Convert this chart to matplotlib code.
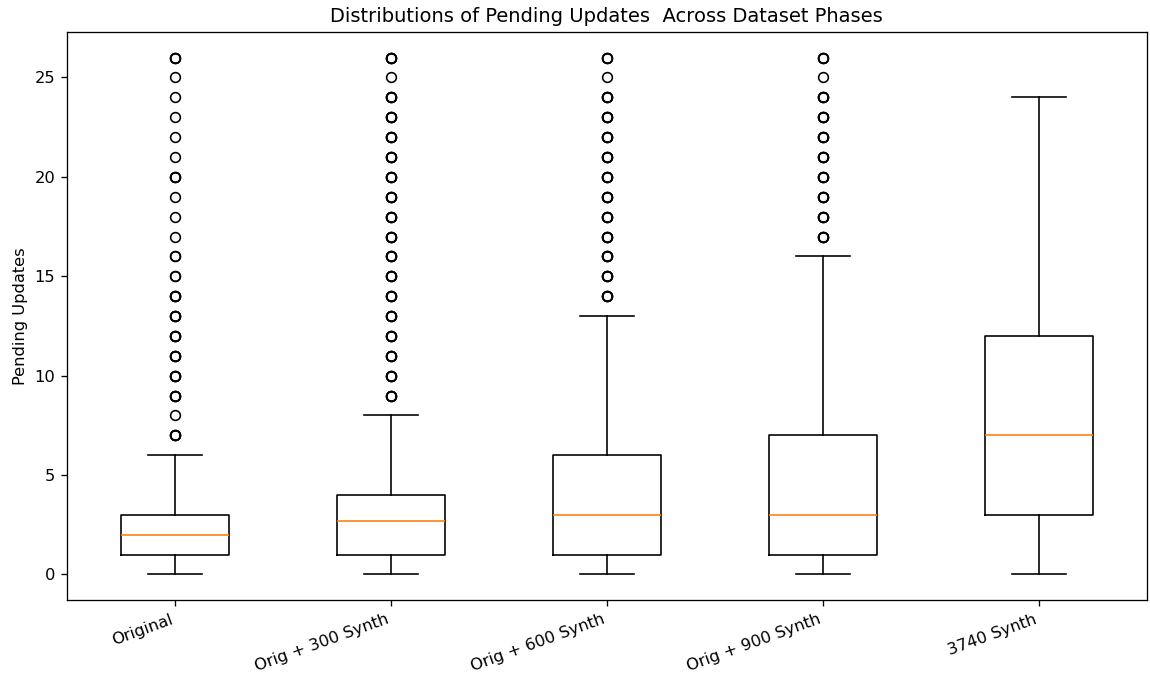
import matplotlib
matplotlib.use("Agg")
import matplotlib.pyplot as plt
import numpy as np

labels = ["Original", "Orig + 300 Synth", "Orig + 600 Synth", "Orig + 900 Synth", "3740 Synth"]
whislo = [0, 0, 0, 0, 0]
q1 = [1, 1, 1, 1, 3]
med = [2, 2.7, 3, 3, 7]
q3 = [3, 4, 6, 7, 12]
whishi = [6, 8, 13, 16, 24]

# outlier values and how many times each was drawn (overlap makes them look bold)
flier_vals = [
    [7, 8, 9, 10, 11, 12, 13, 14, 15, 16, 17, 18, 19, 20, 21, 22, 23, 24, 25, 26],
    [9, 10, 11, 12, 13, 14, 15, 16, 17, 18, 19, 20, 21, 22, 23, 24, 25, 26],
    [14, 15, 16, 17, 18, 19, 20, 21, 22, 23, 24, 25, 26],
    [17, 18, 19, 20, 21, 22, 23, 24, 25, 26],
    [],
]
flier_counts = [
    [4, 1, 4, 4, 4, 4, 4, 4, 2, 2, 1, 1, 1, 3, 1, 1, 1, 1, 1, 3],
    [4, 4, 4, 4, 4, 4, 4, 4, 4, 4, 4, 4, 4, 4, 4, 4, 1, 4],
    [4, 4, 4, 4, 4, 4, 4, 4, 4, 4, 4, 1, 3],
    [4, 4, 4, 4, 4, 4, 4, 4, 1, 3],
    [],
]

stats = []
for i in range(len(labels)):
    stats.append({
        "label": labels[i],
        "whislo": whislo[i],
        "q1": q1[i],
        "med": med[i],
        "q3": q3[i],
        "whishi": whishi[i],
        "fliers": np.repeat(flier_vals[i], flier_counts[i]) if flier_vals[i] else [],
    })

dpi = 117
fig, ax = plt.subplots(figsize=(1150 / dpi, 676 / dpi), dpi=dpi)
ax.bxp(stats)

ax.set_title("Distributions of Pending Updates  Across Dataset Phases")
ax.set_ylabel("Pending Updates")
plt.setp(ax.get_xticklabels(), rotation=20, ha="right")

fig.subplots_adjust(left=0.058, right=0.997, top=0.953, bottom=0.112)
fig.savefig("out.png", dpi=dpi)
